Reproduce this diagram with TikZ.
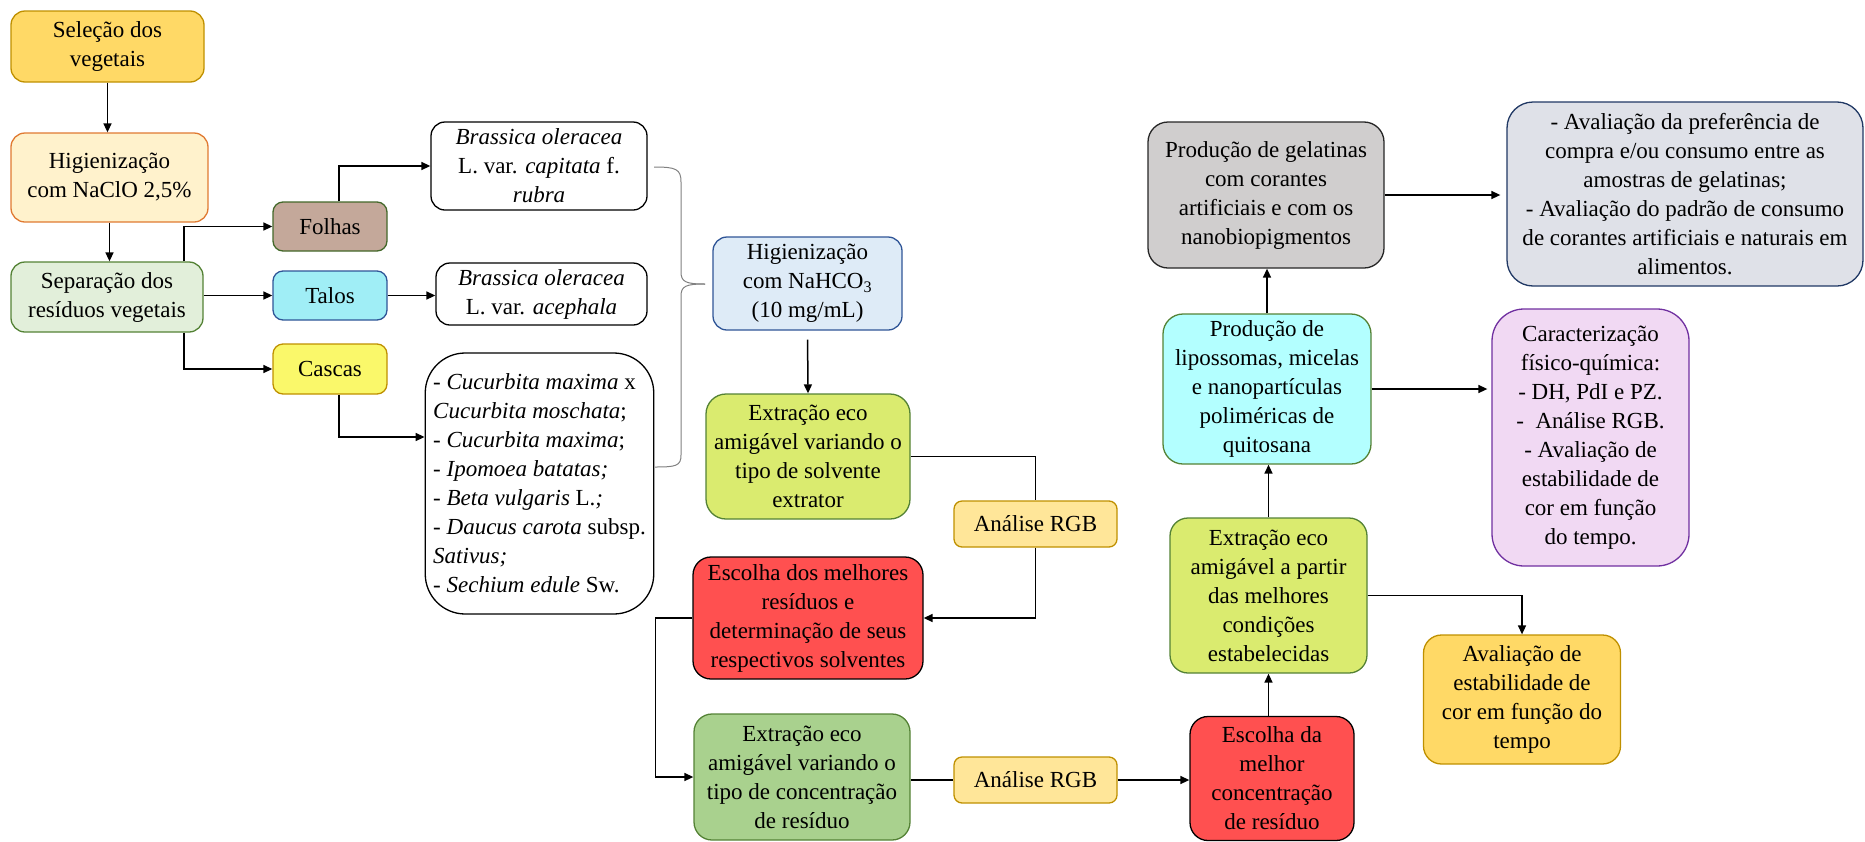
\documentclass[tikz,border=0pt]{standalone}
\usepackage{fontspec}
\setmainfont{Liberation Serif}
\usepackage{tikz}
\usetikzlibrary{arrows.meta}
\definecolor{gold}{HTML}{FFD966}
\definecolor{golddraw}{HTML}{BF9000}
\definecolor{cream}{HTML}{FFF2CC}
\definecolor{orangedraw}{HTML}{E07A32}
\definecolor{palegreen}{HTML}{E2EFDA}
\definecolor{greendraw}{HTML}{548235}
\definecolor{tan}{HTML}{C4A89A}
\definecolor{cyanfill}{HTML}{A0EEF6}
\definecolor{bluedraw}{HTML}{2F5597}
\definecolor{lemon}{HTML}{FAF86A}
\definecolor{paleblue}{HTML}{DEEBF7}
\definecolor{lime}{HTML}{DAEB6F}
\definecolor{sand}{HTML}{FFE699}
\definecolor{redfill}{HTML}{FF5050}
\definecolor{midgreen}{HTML}{A9D18E}
\definecolor{aqua}{HTML}{B3FFFF}
\definecolor{greyfill}{HTML}{D0CECE}
\definecolor{slate}{HTML}{DFE1E8}
\definecolor{navydraw}{HTML}{203864}
\definecolor{lilac}{HTML}{F1D9F3}
\definecolor{purpledraw}{HTML}{7030A0}
\tikzset{
	box/.style={draw,line width=1.3pt,rounded corners=14pt,align=center,inner sep=2pt},
	arr/.style={line width=1.5pt,-{Triangle[length=9pt,width=8pt]}},
	lnk/.style={line width=1.5pt}
}
\begin{document}
\begin{tikzpicture}[x=1pt,y=-1pt,font=\fontsize{23}{29}\selectfont]
	\useasboundingbox (0,0) rectangle (1865,841);
	\node[box,fill=gold,draw=golddraw,minimum width=193pt,minimum height=71pt] (sel) at (107.5,46.5) {Seleção dos\\vegetais};
	\node[box,fill=cream,draw=orangedraw,minimum width=197pt,minimum height=89pt] (hig) at (109.5,177.5) {Higienização\\com NaClO 2,5\%};
	\node[box,fill=palegreen,draw=greendraw,minimum width=192pt,minimum height=70pt] (sep) at (107,297) {Separação dos\\resíduos vegetais};
	\node[box,rounded corners=10pt,fill=tan,draw=greendraw!80!black,minimum width=114pt,minimum height=49pt] (folhas) at (330,226.5) {Folhas};
	\node[box,rounded corners=10pt,fill=cyanfill,draw=bluedraw,minimum width=114pt,minimum height=49pt] (talos) at (330,295.5) {Talos};
	\node[box,rounded corners=10pt,fill=lemon,draw=golddraw,minimum width=114pt,minimum height=50pt] (cascas) at (330,369) {Cascas};
	\node[box,fill=white,draw=black,minimum width=216pt,minimum height=88pt] (capitata) at (539,166) {\textit{Brassica oleracea}\\L. var. \textit{capitata} f.\\\textit{rubra}};
	\node[box,fill=white,draw=black,minimum width=211pt,minimum height=62pt] (acephala) at (541.5,294) {\textit{Brassica oleracea}\\L. var. \textit{acephala}};
	\node[box,rounded corners=40pt,align=left,fill=white,draw=black,minimum width=227pt,minimum height=261pt,inner sep=8pt] (cucurbita) at (539.5,483.5) {- \textit{Cucurbita maxima} x\\\textit{Cucurbita moschata};\\- \textit{Cucurbita maxima};\\- \textit{Ipomoea batatas;}\\- \textit{Beta vulgaris} L.\textit{;}\\- \textit{Daucus carota} subsp.\\\textit{Sativus;}\\- \textit{Sechium edule} Sw.};
	\node[box,fill=paleblue,draw=bluedraw,minimum width=189pt,minimum height=93pt] (nahco) at (807.5,283.5) {Higienização\\com NaHCO\textsubscript{3}\\(10 mg/mL)};
	\node[box,rounded corners=20pt,fill=lime,draw=greendraw,minimum width=204pt,minimum height=125pt] (solvente) at (808,456.5) {Extração eco\\amigável variando o\\tipo de solvente\\extrator};
	\node[box,rounded corners=8pt,fill=sand,draw=golddraw,minimum width=163pt,minimum height=46pt] (rgbA) at (1035.5,524) {Análise RGB};
	\node[box,rounded corners=18pt,fill=redfill,draw=black,minimum width=230pt,minimum height=122pt] (melhores) at (808,618) {Escolha dos melhores\\resíduos e\\determinação de seus\\respectivos solventes};
	\node[box,rounded corners=18pt,fill=midgreen,draw=greendraw,minimum width=216pt,minimum height=126pt] (concentracao) at (802,777) {Extração eco\\amigável variando o\\tipo de concentração\\de resíduo};
	\node[box,rounded corners=8pt,fill=sand,draw=golddraw,minimum width=163pt,minimum height=46pt] (rgbB) at (1035.5,780) {Análise RGB};
	\node[box,rounded corners=18pt,fill=redfill,draw=black,minimum width=164pt,minimum height=124pt] (melhorconc) at (1272,778.5) {Escolha da\\melhor\\concentração\\de resíduo};
	\node[box,rounded corners=18pt,fill=lime,draw=greendraw,minimum width=197pt,minimum height=155pt] (extmelhores) at (1268.5,595.5) {Extração eco\\amigável a partir\\das melhores\\condições\\estabelecidas};
	\node[box,rounded corners=18pt,fill=gold,draw=golddraw,minimum width=197pt,minimum height=129pt] (estabilidade) at (1522,699.5) {Avaliação de\\estabilidade de\\cor em função do\\tempo};
	\node[box,rounded corners=20pt,fill=aqua,draw=greendraw,minimum width=208pt,minimum height=150pt] (lipossomas) at (1267,389) {Produção de\\lipossomas, micelas\\e nanopartículas\\poliméricas de\\quitosana};
	\node[box,rounded corners=20pt,fill=greyfill,draw=black!85,minimum width=236pt,minimum height=146pt] (gelatinas) at (1266,195) {Produção de gelatinas\\com corantes\\artificiais e com os\\nanobiopigmentos};
	\node[box,rounded corners=26pt,fill=slate,draw=navydraw,minimum width=356pt,minimum height=184pt] (preferencia) at (1685,194) {- Avaliação da preferência de\\compra e/ou consumo entre as\\amostras de gelatinas;\\- Avaliação do padrão de consumo\\de corantes artificiais e naturais em\\alimentos.};
	\node[box,rounded corners=32pt,fill=lilac,draw=purpledraw,minimum width=197pt,minimum height=257pt] (caracterizacao) at (1590.5,437.5) {Caracterização\\físico-química:\\- DH, PdI e PZ.\\-\ \ Análise RGB.\\- Avaliação de\\estabilidade de\\cor em função\\do tempo.};
	\draw[arr] (sel.south) -- (sel.south |- hig.north);
	\draw[arr] (hig.south) -- (hig.south |- sep.north);
	\draw[arr] ([xshift=77pt]sep.north) |- (folhas.west);
	\draw[arr] (talos.west -| sep.east) -- (talos.west);
	\draw[arr] ([xshift=77pt]sep.south) |- (cascas.west);
	\draw[arr] ([xshift=9pt]folhas.north) |- (capitata.west);
	\draw[arr] (talos.east) -- (talos.east -| acephala.west);
	\draw[arr] ([xshift=9pt]cascas.south) |- ([yshift=46.5pt]cucurbita.west);
	\coordinate (braceTop) at (654,167);
	\coordinate (braceTip) at (705,284);
	\coordinate (braceEnd) at (655,467);
	\draw[gray,line width=1pt] (braceTop) .. controls (676,167) and (681,169) .. (681,182) -- (681,272) .. controls (681,282) and (686,284) .. (braceTip);
	\draw[gray,line width=1pt] (braceTip) .. controls (686,284) and (681,286) .. (681,296) -- (681,455) .. controls (681,466) and (676,467) .. (braceEnd);
	\draw[arr,shorten <=9pt] (nahco.south) -- (solvente.north);
	\draw[lnk] (solvente.east) -| (rgbA.north);
	\draw[arr] (rgbA.south) |- (melhores.east);
	\draw[arr] (melhores.west) -- ++(-37,0) |- (concentracao.west);
	\draw[lnk] (rgbB.west -| concentracao.east) -- (rgbB.west);
	\draw[arr] (rgbB.east) -- (rgbB.east -| melhorconc.west);
	\draw[arr] (extmelhores.south |- melhorconc.north) -- (extmelhores.south);
	\draw[arr] (extmelhores.east) -| (estabilidade.north);
	\draw[arr] (extmelhores.north) -- (extmelhores.north |- lipossomas.south);
	\draw[arr,shorten >=4pt] (lipossomas.east) -- (lipossomas.east -| caracterizacao.west);
	\draw[arr] (lipossomas.north) -- (lipossomas.north |- gelatinas.south);
	\draw[arr,shorten >=6pt] (gelatinas.east) -- (gelatinas.east -| preferencia.west);
\end{tikzpicture}
\end{document}
